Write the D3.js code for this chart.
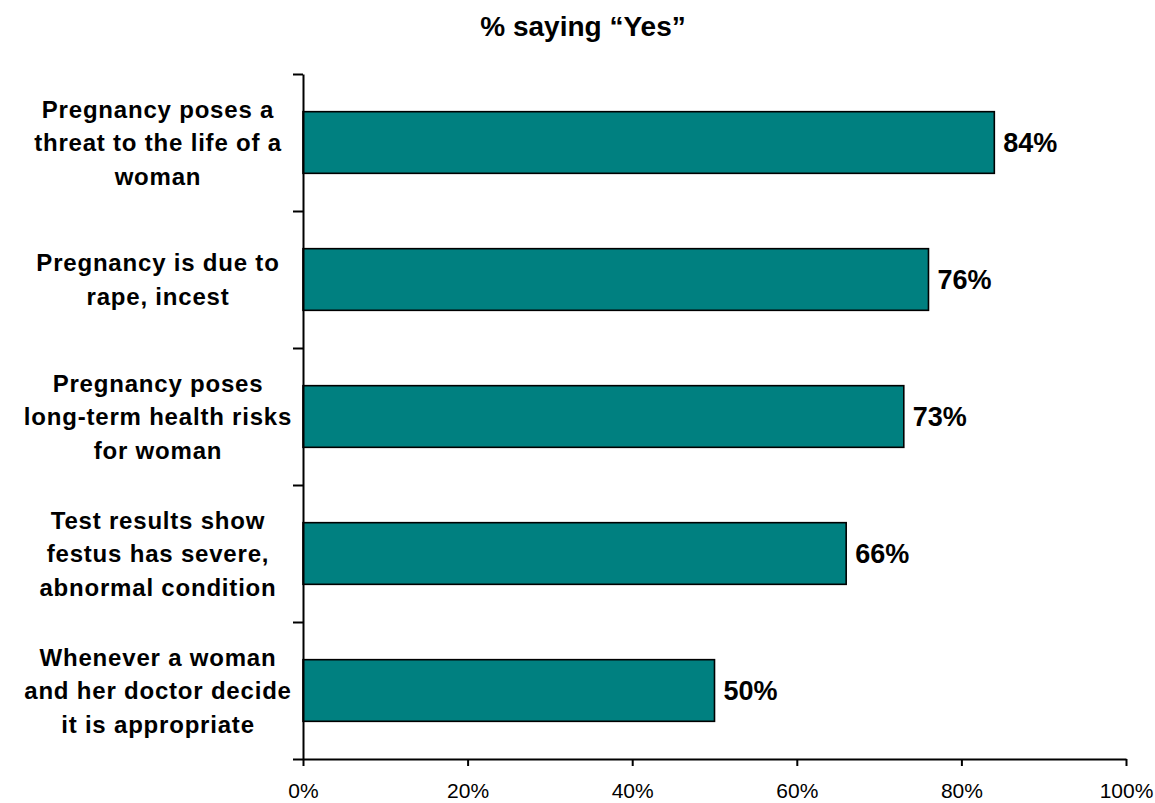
<!DOCTYPE html>
<html>
<head>
<meta charset="utf-8">
<script src="https://cdn.jsdelivr.net/npm/d3@7"></script>
<style>
  html, body { margin: 0; padding: 0; background: #fff; }
  svg { display: block; }
</style>
</head>
<body>
<svg id="chart" width="1155" height="803"></svg>
<script>
// ---- data ----
const title = "% saying \u201cYes\u201d";
const categories = [
  ["Pregnancy poses a", "threat to the life of a", "woman"],
  ["Pregnancy is due to", "rape, incest"],
  ["Pregnancy poses", "long-term health risks", "for woman"],
  ["Test results show", "festus has severe,", "abnormal condition"],
  ["Whenever a woman", "and her doctor decide", "it is appropriate"]
];
const values = [84, 76, 73, 66, 50];
const xTicks = [0, 20, 40, 60, 80, 100];
const xTickLabels = ["0%", "20%", "40%", "60%", "80%", "100%"];

// ---- layout ----
const font = "Arial, 'Liberation Sans', Helvetica, sans-serif";
const svg = d3.select("#chart");
const plotLeft = 303, plotRight = 1126, plotTop = 74, plotBottom = 759;

const ids = categories.map((c, i) => i);
const x = d3.scaleLinear().domain([0, 100]).range([plotLeft, plotRight]);
const y = d3.scaleBand().domain(ids).range([plotTop, plotBottom]).paddingInner(0.55).paddingOuter(0.275);
const yEdge = d3.scaleLinear().domain([0, categories.length]).range([plotTop, plotBottom]);

// title
svg.append("text")
  .attr("x", 583).attr("y", 36)
  .attr("text-anchor", "middle")
  .attr("font-family", font).attr("font-weight", "bold")
  .attr("font-size", 28)
  .attr("fill", "#000")
  .text(title);

// bars
svg.append("g").selectAll("rect")
  .data(values)
  .join("rect")
  .attr("x", x(0))
  .attr("y", (d, i) => y(i))
  .attr("width", d => x(d) - x(0))
  .attr("height", y.bandwidth())
  .attr("fill", "#008080")
  .attr("stroke", "#000")
  .attr("stroke-width", 1.6);

// value labels
svg.append("g").selectAll("text")
  .data(values)
  .join("text")
  .attr("x", d => x(d) + 9)
  .attr("y", (d, i) => y(i) + y.bandwidth() / 2)
  .attr("dy", "0.36em")
  .attr("font-family", font).attr("font-weight", "bold")
  .attr("font-size", 27)
  .attr("fill", "#000")
  .text(d => d + "%");

// y axis (ticks at category boundaries)
const yAxis = svg.append("g")
  .attr("transform", `translate(${plotLeft},0)`)
  .call(d3.axisLeft(yEdge).tickValues(d3.range(categories.length + 1)).tickSize(10).tickSizeOuter(0).tickFormat(""));
yAxis.select(".domain").attr("stroke", "#000").attr("stroke-width", 2);
yAxis.selectAll(".tick line").attr("stroke", "#000").attr("stroke-width", 2);

// x axis
const xAxis = svg.append("g")
  .attr("transform", `translate(0,${plotBottom})`)
  .call(d3.axisBottom(x).tickValues(xTicks).tickSize(7).tickSizeOuter(0)
    .tickFormat((d, i) => xTickLabels[i]));
xAxis.select(".domain").attr("stroke", "#000").attr("stroke-width", 2);
xAxis.selectAll(".tick line").attr("stroke", "#000").attr("stroke-width", 2);
xAxis.selectAll(".tick text")
  .attr("y", 39).attr("dy", 0)
  .attr("font-family", font).attr("font-size", 21)
  .attr("fill", "#000");

// category labels
const lineH = 33.5;
const catG = svg.append("g");
categories.forEach((lines, i) => {
  const cy = y(i) + y.bandwidth() / 2;
  const t = catG.append("text")
    .attr("text-anchor", "middle")
    .attr("font-family", font).attr("font-weight", "bold")
    .attr("font-size", 24).attr("letter-spacing", 0.8)
    .attr("fill", "#000");
  lines.forEach((ln, j) => {
    t.append("tspan")
      .attr("x", 158)
      .attr("y", cy + (j - (lines.length - 1) / 2) * lineH)
      .attr("dy", "0.36em")
      .text(ln);
  });
});
</script>
</body>
</html>
